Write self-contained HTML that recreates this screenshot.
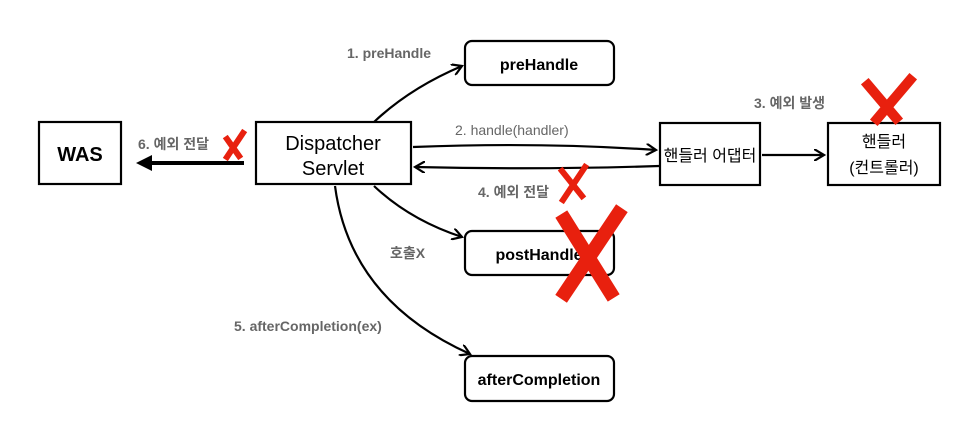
<!DOCTYPE html>
<html><head><meta charset="utf-8"><style>
body{margin:0;background:#fff}
svg text{font-family:"Liberation Sans","Noto Sans CJK KR",sans-serif}
</style></head><body>
<svg width="972" height="428" viewBox="0 0 972 428" xmlns="http://www.w3.org/2000/svg">
<defs>
<marker id="a" markerWidth="12" markerHeight="12" refX="10" refY="6" orient="auto" markerUnits="userSpaceOnUse">
<path d="M0,0 L10,6 L0,12" fill="none" stroke="#000" stroke-width="2.2"/></marker>
</defs>
<g fill="none" stroke="#000" stroke-width="2.2">
<rect x="39" y="122" width="82" height="62"/>
<rect x="256" y="122" width="155" height="62"/>
<rect x="465" y="41" width="149" height="44" rx="7"/>
<rect x="465" y="231" width="149" height="44" rx="7"/>
<rect x="465" y="356" width="149" height="45" rx="7"/>
<rect x="660" y="123" width="100" height="62"/>
<rect x="828" y="123" width="112" height="62"/>
<path d="M374,122 Q410,88 462,66" marker-end="url(#a)"/>
<path d="M413,147 Q540,142 656,150" marker-end="url(#a)"/>
<path d="M659,166 Q540,170 415,167" marker-end="url(#a)"/>
<path d="M762,155 L824,155" marker-end="url(#a)"/>
<path d="M374,186 Q410,220 462,237" marker-end="url(#a)"/>
<path d="M335,186 Q350,300 470,354" marker-end="url(#a)"/>
</g>
<path d="M244,163 L150,163" stroke="#000" stroke-width="4"/>
<path d="M136,163 L152,155 L152,171 Z" fill="#000"/>
<g font-weight="bold" font-size="14" fill="#666">
<text x="347" y="58">1. preHandle</text>
<text x="138" y="149">6. 예외 전달</text>
<text x="478" y="197">4. 예외 전달</text>
<text x="754" y="108">3. 예외 발생</text>
<text x="390" y="258">호출X</text>
<text x="234" y="331">5. afterCompletion(ex)</text>
</g>
<text x="455" y="135" font-size="14" fill="#666">2. handle(handler)</text>
<g font-size="20" text-anchor="middle" fill="#000">
<text x="80" y="161" font-weight="bold">WAS</text>
<text x="333" y="150">Dispatcher</text>
<text x="333" y="175">Servlet</text>
<text x="539" y="70" font-weight="bold" font-size="16">preHandle</text>
<text x="539" y="260" font-weight="bold" font-size="16">postHandle</text>
<text x="539" y="385" font-weight="bold" font-size="16">afterCompletion</text>
<text x="710" y="161" font-size="16">핸들러 어댑터</text>
<text x="884" y="147" font-size="16">핸들러</text>
<text x="884" y="173" font-size="16">(컨트롤러)</text>
</g>
<g stroke="#e8200e" stroke-linecap="square" fill="none">
<path d="M227,139 L239,156 M243,133 L227,157" stroke-width="6"/>
<path d="M562,171 L582,196 M585,167 L563,200" stroke-width="6"/>
<path d="M868,85 L896,118 M910,80 L877,119" stroke-width="10"/>
<path d="M565,220 L610,292 M618,214 L565,293" stroke-width="14"/>
</g>
</svg>
</body></html>
